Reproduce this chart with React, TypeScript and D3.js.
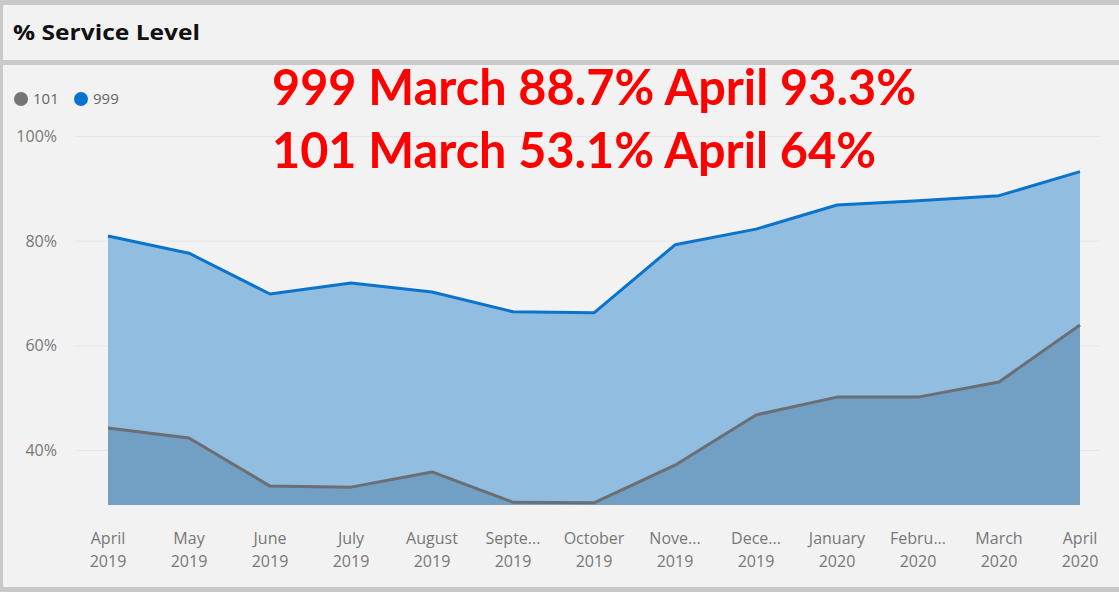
import React, { useEffect, useRef } from 'react';
import * as d3 from 'd3';

const months = ['April', 'May', 'June', 'July', 'August', 'Septe...', 'October', 'Nove...', 'Dece...', 'January', 'Febru...', 'March', 'April'];
const years = ['2019', '2019', '2019', '2019', '2019', '2019', '2019', '2019', '2019', '2020', '2020', '2020', '2020'];
const s999 = [81.0, 77.7, 69.9, 72.0, 70.3, 66.5, 66.3, 79.3, 82.3, 86.9, 87.7, 88.7, 93.3];
const s101 = [44.3, 42.4, 33.2, 33.0, 35.9, 30.1, 30.0, 37.2, 46.8, 50.2, 50.2, 53.1, 64.0];
const yTicks = [40, 60, 80, 100];
const notes = ['999 March 88.7% April 93.3%', '101 March 53.1% April 64%'];

const W = 1119;
const H = 592;

export default function App() {
  const svgRef = useRef<SVGSVGElement>(null);

  useEffect(() => {
    if (!svgRef.current) return;
    const svg = d3.select(svgRef.current);
    svg.selectAll('*').remove();

    // frame + panels
    svg.append('rect').attr('width', W).attr('height', H).attr('fill', '#c9c9c9');
    svg.append('rect').attr('x', 3).attr('y', 5).attr('width', W - 3).attr('height', 55).attr('fill', '#f2f2f2');
    svg.append('rect').attr('x', 3).attr('y', 65).attr('width', W - 3).attr('height', 522).attr('fill', '#f2f2f2');

    svg.append('text')
      .attr('x', 13).attr('y', 40)
      .attr('font-family', '"Open Sans", sans-serif')
      .attr('font-weight', 'bold')
      .attr('font-size', 21)
      .attr('fill', '#111')
      .attr('textLength', 187)
      .attr('lengthAdjust', 'spacingAndGlyphs')
      .text('% Service Level');

    const x = d3.scalePoint<number>().domain(d3.range(months.length)).range([108, 1080]);
    const y = d3.scaleLinear().domain([40, 100]).range([450.5, 136.5]);
    const base = 505;

    // gridlines + y labels
    const g = svg.append('g');
    yTicks.forEach(t => {
      g.append('line')
        .attr('x1', 75).attr('x2', 1100)
        .attr('y1', y(t)).attr('y2', y(t))
        .attr('stroke', '#e6e6e6').attr('stroke-width', 1);
      g.append('text')
        .attr('x', 57).attr('y', y(t)).attr('dy', '0.35em')
        .attr('text-anchor', 'end')
        .attr('font-family', '"Open Sans", sans-serif')
        .attr('font-size', 16)
        .attr('fill', '#777')
        .text(t + '%');
    });

    const idx = d3.range(months.length);
    const area = (vals: number[]) => d3.area<number>()
      .x(i => x(i)!)
      .y0(base)
      .y1(i => y(vals[i]))(idx);
    const line = (vals: number[]) => d3.line<number>()
      .x(i => x(i)!)
      .y(i => y(vals[i]))(idx);

    svg.append('path').attr('d', area(s999)).attr('fill', '#90bde0');
    svg.append('path').attr('d', area(s101)).attr('fill', '#729fc4');
    svg.append('path').attr('d', line(s999)).attr('fill', 'none').attr('stroke', '#0a73cc').attr('stroke-width', 3).attr('stroke-linejoin', 'round');
    svg.append('path').attr('d', line(s101)).attr('fill', 'none').attr('stroke', '#6b6e73').attr('stroke-width', 3).attr('stroke-linejoin', 'round');

    // x labels
    idx.forEach(i => {
      const t = svg.append('text')
        .attr('text-anchor', 'middle')
        .attr('font-family', '"Open Sans", sans-serif')
        .attr('font-size', 16)
        .attr('fill', '#777');
      t.append('tspan').attr('x', x(i)!).attr('y', 544).text(months[i]);
      t.append('tspan').attr('x', x(i)!).attr('y', 567).text(years[i]);
    });

    // legend
    const leg = [{ name: '101', color: '#757575', cx: 21 }, { name: '999', color: '#0a73cc', cx: 81 }];
    leg.forEach(l => {
      svg.append('circle').attr('cx', l.cx).attr('cy', 99).attr('r', 7).attr('fill', l.color);
      svg.append('text')
        .attr('x', l.cx + 12).attr('y', 99).attr('dy', '0.35em')
        .attr('font-family', '"Open Sans", sans-serif')
        .attr('font-size', 15)
        .attr('fill', '#666')
        .text(l.name);
    });

    // red annotation
    const widths = [644, 604];
    notes.forEach((n, i) => {
      svg.append('text')
        .attr('x', 272).attr('y', i === 0 ? 105 : 168)
        .attr('font-family', 'Lato, sans-serif')
        .attr('font-weight', 'bold')
        .attr('font-size', 49)
        .attr('fill', '#ff0000')
        .attr('textLength', widths[i])
        .attr('lengthAdjust', 'spacingAndGlyphs')
        .text(n);
    });
  }, []);

  return (
    <div style={{ position: 'absolute', left: 0, top: 0 }}>
      <svg ref={svgRef} width={W} height={H} style={{ display: 'block' }} />
    </div>
  );
}
